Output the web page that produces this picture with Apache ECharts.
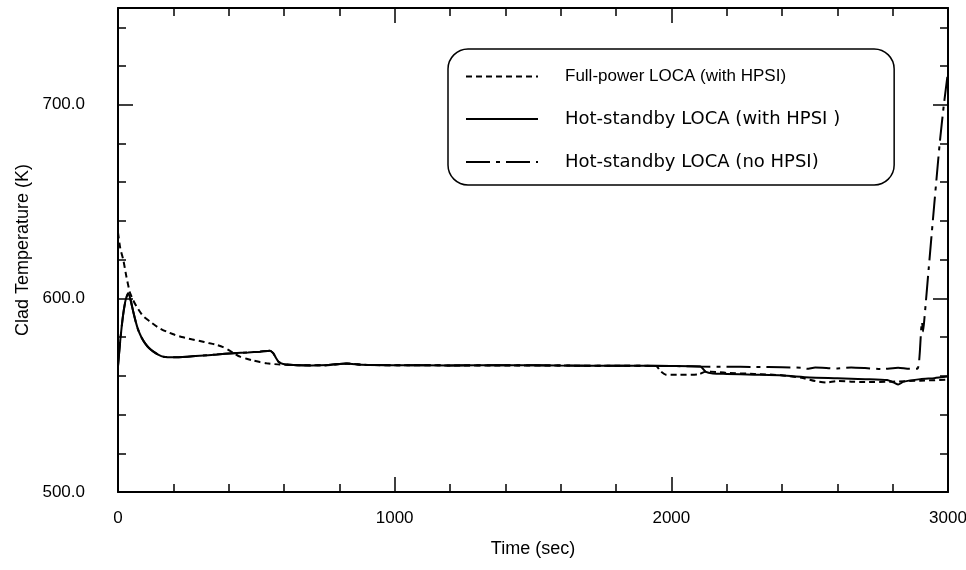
<!DOCTYPE html>
<html>
<head>
<meta charset="utf-8">
<script src="https://cdn.jsdelivr.net/npm/echarts@6/dist/echarts.min.js"></script>
<style>html,body{margin:0;padding:0;background:#fff}#c{width:966px;height:570px}</style>
</head>
<body>
<div id="c"></div>
<script>
const seriesNames = ['Full-power LOCA (with HPSI)', 'Hot-standby LOCA (with HPSI )', 'Hot-standby LOCA (no HPSI)'];
const xLabels = [0, 1000, 2000, 3000];
const yLabels = [500, 600, 700];

const fullTime = [0, 8, 19, 30, 43, 55, 67, 90, 116, 145, 176, 205, 236, 266, 296, 327, 357, 380, 399, 420, 441, 465, 489, 513, 537, 585, 650, 750, 827, 900, 1000, 1200, 1400, 1600, 1800, 1945, 1960, 1980, 2030, 2100, 2125, 2160, 2200, 2300, 2400, 2470, 2520, 2560, 2600, 2650, 2700, 2800, 2900, 3000];
const fullTemp = [634, 626, 620, 611.5, 603, 599, 595.8, 591, 588, 585, 582.8, 581.2, 579.9, 578.9, 578, 577, 576, 574.8, 573.4, 571.6, 569.9, 568.8, 567.9, 567.1, 566.5, 565.8, 565.5, 565.4, 566.3, 565.6, 565.5, 565.4, 565.4, 565.3, 565.2, 565.1, 562.5, 560.6, 560.5, 560.8, 562.3, 562, 561.5, 561, 560.3, 559, 557.3, 556.5, 557.3, 557, 556.8, 557, 557.5, 558];

const hsTime = [0, 8, 18, 28, 37, 45, 55, 64, 73, 85, 98, 112, 128, 145, 164, 200, 250, 296, 357, 417, 470, 513, 549, 561, 570, 580, 597, 633, 700, 760, 827, 880, 1000, 1200, 1400, 1600, 1800, 2000, 2105, 2125, 2150, 2200, 2300, 2400, 2500, 2600, 2700, 2780, 2805, 2820, 2840, 2900, 2950, 3000];
const hsTemp = [565, 578, 591, 599.5, 602.7, 599.5, 593.2, 588, 583.7, 579.8, 576.8, 574.4, 572.5, 571, 569.9, 569.6, 569.9, 570.4, 571, 571.7, 572.1, 572.5, 573, 571.7, 569.5, 567.3, 566.1, 565.6, 565.4, 565.6, 566.4, 565.7, 565.5, 565.4, 565.5, 565.3, 565.2, 565.1, 564.8, 562, 561.2, 561, 560.6, 560.2, 559.2, 558.8, 558.3, 557.8, 556.5, 555.5, 557, 558.3, 558.8, 559.6];

const noTime = [0, 8, 18, 28, 37, 45, 55, 64, 73, 85, 98, 112, 128, 145, 164, 200, 250, 296, 357, 417, 470, 513, 549, 561, 570, 580, 597, 633, 700, 760, 827, 880, 1000, 1200, 1400, 1600, 1800, 2000, 2105, 2200, 2300, 2400, 2470, 2490, 2520, 2600, 2650, 2700, 2760, 2820, 2860, 2890, 2897, 2903, 2906, 2910, 2915, 2930, 2950, 2970, 2985, 3000];
const noTemp = [565, 578, 591, 599.5, 602.7, 599.5, 593.2, 588, 583.7, 579.8, 576.8, 574.4, 572.5, 571, 569.9, 569.6, 569.9, 570.4, 571, 571.7, 572.1, 572.5, 573, 571.7, 569.5, 567.3, 566.1, 565.6, 565.4, 565.6, 566.4, 565.7, 565.5, 565.4, 565.5, 565.3, 565.2, 565.1, 564.8, 564.7, 564.6, 564.4, 564.2, 563.6, 564.3, 563.8, 564.3, 564, 563.5, 564.2, 563.6, 563.8, 570, 584, 588, 583, 590, 615, 648, 680, 700, 717];

const FONT = 'Liberation Sans, Arial, Helvetica, sans-serif';
function pairs(t, v) { return t.map((x, i) => [x, v[i]]); }

const chart = echarts.init(document.getElementById('c'), null, {renderer: 'canvas'});
const lineAxis = {show: true, onZero: false, lineStyle: {color: '#000', width: 2}};
const noLine = {show: false, onZero: false};
const tickMinor = {show: true, inside: true, length: 8, lineStyle: {color: '#000', width: 1.5}};
const tickMajor = {show: true, inside: true, length: 15, lineStyle: {color: '#000', width: 1.5}};
const gridBox = {left: 118, right: 18, top: 8, bottom: 78, containLabel: false, outerBoundsMode: 'none'};

function xMinor(pos, withLabel) {
  const a = {type: 'value', gridIndex: 0, position: pos, min: 0, max: 3000, interval: 200,
    axisLine: lineAxis, axisTick: tickMinor, splitLine: {show: false},
    axisLabel: {show: false}};
  if (withLabel) {
    a.axisLabel = {show: true, formatter: v => (xLabels.indexOf(v) >= 0 ? String(v) : ''), margin: 18, color: '#000', fontSize: 17, fontFamily: FONT};
    a.name = 'Time (sec)'; a.nameLocation = 'middle'; a.nameGap = 48;
    a.nameTextStyle = {fontFamily: FONT, fontSize: 18, color: '#000'};
  }
  return a;
}
function xMajor(pos) {
  return {type: 'value', gridIndex: 1, position: pos, min: 0, max: 3000, interval: 1000,
    axisLine: noLine, axisTick: tickMajor, axisLabel: {show: false}, splitLine: {show: false}};
}
function yMinor(pos, withLabel) {
  const a = {type: 'value', gridIndex: 0, position: pos, min: 500, max: 750, interval: 20,
    axisLine: lineAxis, axisTick: tickMinor, splitLine: {show: false},
    axisLabel: {show: false}};
  if (withLabel) {
    a.axisLabel = {show: true, formatter: v => (yLabels.indexOf(v) >= 0 ? v.toFixed(1) : ''), margin: 33, color: '#000', fontSize: 17, fontFamily: FONT};
    a.name = 'Clad Temperature (K)'; a.nameLocation = 'middle'; a.nameGap = 86;
    a.nameTextStyle = {fontFamily: FONT, fontSize: 18, color: '#000'};
  }
  return a;
}
function yMajor(pos) {
  return {type: 'value', gridIndex: 1, position: pos, min: 500, max: 750, interval: 100,
    axisLine: noLine, axisTick: tickMajor, axisLabel: {show: false}, splitLine: {show: false}};
}

const hotText = {fontFamily: 'DejaVu Sans, ' + FONT, fontSize: 18, color: '#000', padding: [0, 0, 0, 22]};

chart.setOption({
  animation: false,
  backgroundColor: '#fff',
  grid: [Object.assign({}, gridBox), Object.assign({}, gridBox)],
  legend: {
    orient: 'vertical', left: 448, top: 49,
    data: [
      {name: seriesNames[0]},
      {name: seriesNames[1], textStyle: hotText},
      {name: seriesNames[2], textStyle: hotText}
    ],
    itemWidth: 72, itemHeight: 16, itemGap: 25,
    padding: [19, 54, 14, 17],
    borderColor: '#000', borderWidth: 1.5, borderRadius: 20,
    itemStyle: {opacity: 0},
    textStyle: {fontFamily: FONT, fontSize: 17, color: '#000', padding: [0, 0, 0, 22]}
  },
  xAxis: [xMinor('bottom', true), xMinor('top', false), xMajor('bottom'), xMajor('top')],
  yAxis: [yMinor('left', true), yMinor('right', false), yMajor('left'), yMajor('right')],
  series: [
    {name: seriesNames[0], type: 'line', xAxisIndex: 0, yAxisIndex: 0, data: pairs(fullTime, fullTemp), symbol: 'none', smooth: 0.2,
     lineStyle: {color: '#000', width: 2, type: [6, 4]}, itemStyle: {color: '#000'}},
    {name: seriesNames[1], type: 'line', xAxisIndex: 0, yAxisIndex: 0, data: pairs(hsTime, hsTemp), symbol: 'none', smooth: 0.2,
     lineStyle: {color: '#000', width: 2, type: 'solid'}, itemStyle: {color: '#000'}},
    {name: seriesNames[2], type: 'line', xAxisIndex: 0, yAxisIndex: 0, data: pairs(noTime, noTemp), symbol: 'none', smooth: 0.2,
     lineStyle: {color: '#000', width: 2, type: [24, 6, 4, 6]}, itemStyle: {color: '#000'}}
  ]
});
</script>
</body>
</html>
